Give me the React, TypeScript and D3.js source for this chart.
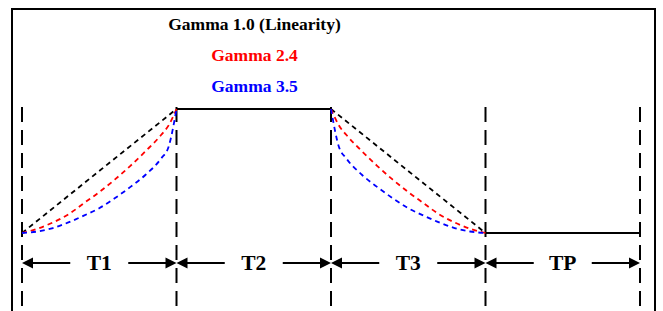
import React, { useRef, useEffect } from "react";
import * as d3 from "d3";

// Phases of one PWM/dimming cycle
const phases = ["T1", "T2", "T3", "TP"];

// Legend labels and colours
const gammaLabels = ["Gamma 1.0 (Linearity)", "Gamma 2.4", "Gamma 3.5"];
const gammaColors = ["#000000", "#ff0000", "#0000ff"];

// Rising ramp (T1): time fraction -> brightness fraction
const riseSteps = [0, 0.1, 0.2, 0.3, 0.4, 0.5, 0.6, 0.7, 0.8, 0.9, 0.95, 1];
const riseGamma10 = [0, 0.1, 0.2, 0.3, 0.4, 0.5, 0.6, 0.7, 0.8, 0.9, 0.95, 1];
const riseGamma24 = [0, 0.035, 0.085, 0.15, 0.24, 0.33, 0.43, 0.54, 0.66, 0.79, 0.87, 1];
const riseGamma35 = [0, 0.012, 0.04, 0.085, 0.14, 0.2, 0.28, 0.37, 0.47, 0.6, 0.7, 1];

// Falling ramp (T3)
const fallSteps = [0, 0.05, 0.1, 0.2, 0.3, 0.4, 0.5, 0.6, 0.7, 0.8, 0.9, 1];
const fallGamma10 = [1, 0.95, 0.9, 0.8, 0.7, 0.6, 0.5, 0.4, 0.3, 0.2, 0.1, 0];
const fallGamma24 = [1, 0.87, 0.79, 0.66, 0.54, 0.43, 0.33, 0.24, 0.15, 0.085, 0.035, 0];
const fallGamma35 = [1, 0.7, 0.6, 0.47, 0.37, 0.28, 0.2, 0.14, 0.085, 0.04, 0.012, 0];

const FONT = "'Liberation Serif', 'Times New Roman', serif";

export default function App() {
  const ref = useRef<SVGSVGElement | null>(null);

  useEffect(() => {
    if (!ref.current) return;
    const svg = d3.select(ref.current);
    svg.selectAll("*").remove();

    const width = 663;
    const height = 311;

    // time in phase units, brightness 0..1
    const x = d3.scaleLinear().domain([0, phases.length]).range([22, 640]);
    const y = d3.scaleLinear().domain([0, 1]).range([233, 109]);

    // Frame
    svg
      .append("path")
      .attr("d", `M12,${height + 10} L12,9 L655,9 L655,${height + 10}`)
      .attr("fill", "none")
      .attr("stroke", "#000")
      .attr("stroke-width", 2);

    // Phase boundaries (dashed verticals)
    svg
      .append("g")
      .selectAll("line")
      .data(d3.range(phases.length + 1))
      .enter()
      .append("line")
      .attr("x1", (d) => x(d))
      .attr("x2", (d) => x(d))
      .attr("y1", 107)
      .attr("y2", height)
      .attr("stroke", "#000")
      .attr("stroke-width", 2)
      .attr("stroke-dasharray", "15,8");

    // Solid segments: plateau (T2) and off (TP)
    const solid = [
      [[1, 1], [2, 1]],
      [[3, 0], [4, 0]],
    ];
    const line = d3
      .line<number[]>()
      .x((d) => x(d[0]))
      .y((d) => y(d[1]));
    svg
      .append("g")
      .selectAll("path")
      .data(solid)
      .enter()
      .append("path")
      .attr("d", (d) => line(d))
      .attr("fill", "none")
      .attr("stroke", "#000")
      .attr("stroke-width", 2);

    // Gamma ramps
    const curve = d3
      .line<number[]>()
      .x((d) => x(d[0]))
      .y((d) => y(d[1]))
      .curve(d3.curveMonotoneX);

    const rises = [riseGamma10, riseGamma24, riseGamma35];
    const falls = [fallGamma10, fallGamma24, fallGamma35];
    const g = svg.append("g");
    rises.forEach((vals, i) => {
      const pts = riseSteps.map((t, j) => [0 + t, vals[j]]);
      g.append("path")
        .attr("d", i === 0 ? line([pts[0], pts[pts.length - 1]]) : curve(pts))
        .attr("fill", "none")
        .attr("stroke", gammaColors[i])
        .attr("stroke-width", 1.8)
        .attr("stroke-dasharray", "5,4");
    });
    falls.forEach((vals, i) => {
      const pts = fallSteps.map((t, j) => [2 + t, vals[j]]);
      g.append("path")
        .attr("d", i === 0 ? line([pts[0], pts[pts.length - 1]]) : curve(pts))
        .attr("fill", "none")
        .attr("stroke", gammaColors[i])
        .attr("stroke-width", 1.8)
        .attr("stroke-dasharray", "5,4");
    });

    // Legend text
    svg
      .append("g")
      .selectAll("text")
      .data(gammaLabels)
      .enter()
      .append("text")
      .attr("x", 254.5)
      .attr("y", (_d, i) => 30 + i * 31)
      .attr("text-anchor", "middle")
      .attr("font-family", FONT)
      .attr("font-weight", "bold")
      .attr("font-size", "17.5px")
      .attr("fill", (_d, i) => gammaColors[i])
      .text((d) => d);

    // Phase dimension arrows
    const arrowY = 263;
    const gap = 29;
    const ag = svg.append("g");
    phases.forEach((p, i) => {
      const x0 = x(i);
      const x1 = x(i + 1);
      const cx = (x0 + x1) / 2;
      ag.append("line")
        .attr("x1", x0 + 8)
        .attr("x2", cx - gap)
        .attr("y1", arrowY)
        .attr("y2", arrowY)
        .attr("stroke", "#000")
        .attr("stroke-width", 2);
      ag.append("line")
        .attr("x1", cx + gap)
        .attr("x2", x1 - 8)
        .attr("y1", arrowY)
        .attr("y2", arrowY)
        .attr("stroke", "#000")
        .attr("stroke-width", 2);
      ag.append("path")
        .attr("d", `M${x0},${arrowY} L${x0 + 11},${arrowY - 5.5} L${x0 + 11},${arrowY + 5.5} Z`)
        .attr("fill", "#000");
      ag.append("path")
        .attr("d", `M${x1},${arrowY} L${x1 - 11},${arrowY - 5.5} L${x1 - 11},${arrowY + 5.5} Z`)
        .attr("fill", "#000");
      ag.append("text")
        .attr("x", cx)
        .attr("y", 270)
        .attr("text-anchor", "middle")
        .attr("font-family", FONT)
        .attr("font-weight", "bold")
        .attr("font-size", "21.5px")
        .attr("fill", "#000")
        .text(p);
    });
  }, []);

  return (
    <svg
      ref={ref}
      width={663}
      height={311}
      style={{ position: "absolute", left: 0, top: 0, background: "#fff" }}
    />
  );
}
